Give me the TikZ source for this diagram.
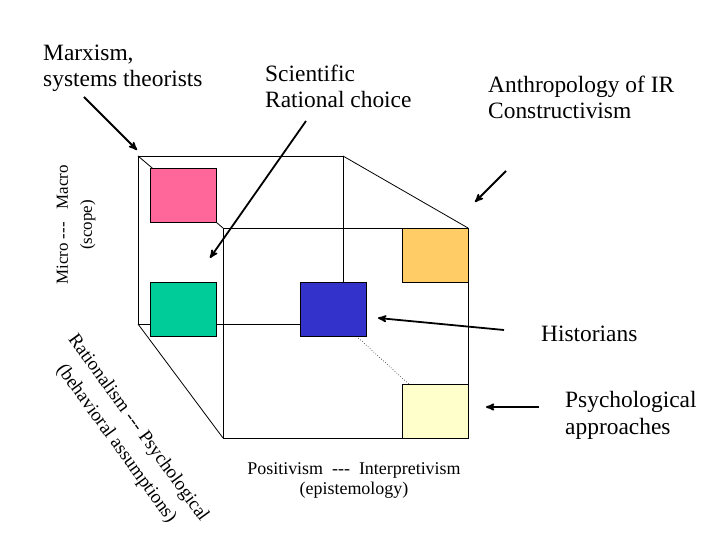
\documentclass[tikz,border=0pt]{standalone}
\usepackage{fontspec}
\setmainfont{Liberation Serif}
\usepackage{xcolor}
\usetikzlibrary{arrows}
\definecolor{pinkbox}{HTML}{FF6699}
\definecolor{greenbox}{HTML}{00CC99}
\definecolor{bluebox}{HTML}{3333CC}
\definecolor{orangebox}{HTML}{FFCC66}
\definecolor{creambox}{HTML}{FFFFCC}

\begin{document}
\begin{tikzpicture}[x=1bp,y=-1bp,>=stealth',
  face/.style={draw,line width=0.8bp},
  box/.style={draw,line width=0.8bp,minimum width=66bp,minimum height=54bp,inner sep=0pt},
  lbl/.style={inner sep=0pt,align=left,font=\fontsize{23.5}{27}\selectfont},
  axis lbl/.style={inner sep=0pt,align=center},
  pointer/.style={->,line width=1.8bp}]
  \useasboundingbox (0,0) rectangle (720,540);

  % the two faces of the cube
  \coordinate (back nw) at (138,156);
  \coordinate (back ne) at (343,156);
  \coordinate (back sw) at (138,324);
  \coordinate (back se) at (343,324);
  \coordinate (front nw) at (223,228);
  \coordinate (front ne) at (468,228);
  \coordinate (front sw) at (223,438);
  \coordinate (front se) at (468,438);
  \draw[face] (back nw) rectangle (back se);
  \draw[face] (front nw) rectangle (front se);
  \draw[face] (back nw) -- (front nw) (back ne) -- (front ne) (back sw) -- (front sw);
  \draw[line width=0.6bp,dotted] (back se) -- (front se);

  % coloured boxes
  \node[box,fill=pinkbox] (marxism) at (183.5,195.5) {};
  \node[box,fill=greenbox] (rational) at (183.5,309.5) {};
  \node[box,fill=bluebox] (history) at (333.5,309.5) {};
  \node[box,fill=orangebox] (anthro) at (435.5,255.5) {};
  \node[box,fill=creambox] (psycho) at (435.5,411.5) {};

  % labels (base is the last line)
  \node[lbl,anchor=base west] (marx txt) at (43,87) {Marxism,\\systems theorists};
  \node[lbl,anchor=base west] (sci txt) at (265,108) {Scientific\\Rational choice};
  \node[lbl,anchor=base west] (anth txt) at (488,119) {Anthropology of IR\\Constructivism};
  \node[lbl,anchor=base west] (hist txt) at (541,341) {Historians};
  \node[lbl,anchor=base west] (psy txt) at (565,434) {Psychological\\approaches};

  % axis labels
  \node[axis lbl,anchor=base,font=\fontsize{18}{20}\selectfont] (epist) at (354,494)
    {Positivism\ \ {-}{-}{-}\ \ Interpretivism\\(epistemology)};
  \node[axis lbl,rotate=90,font=\fontsize{17}{24}\selectfont] (scope) at (76,225)
    {Micro\ {-}{-}{-}\ \ \ Macro\\(scope)};
  \node[axis lbl,rotate=-54,font=\fontsize{19}{27}\selectfont] (behav) at (127,436)
    {Rationalism {-}{-}{-} Psychological\\(behavioral assumptions)};

  % pointers
  \coordinate (marx from) at (84,97);
  \coordinate (marx to) at (137,150);
  \coordinate (sci from) at (306,121);
  \coordinate (sci to) at (210,258);
  \coordinate (anth from) at (506,171);
  \coordinate (anth to) at (475,202);
  \coordinate (hist from) at (504,330);
  \coordinate (hist to) at (378,318);
  \coordinate (psy from) at (539,407);
  \coordinate (psy to) at (486,407);
  \draw[pointer] (marx from) -- (marx to);
  \draw[pointer] (sci from) -- (sci to);
  \draw[pointer] (anth from) -- (anth to);
  \draw[pointer] (hist from) -- (hist to);
  \draw[pointer] (psy from) -- (psy to);
\end{tikzpicture}
\end{document}
